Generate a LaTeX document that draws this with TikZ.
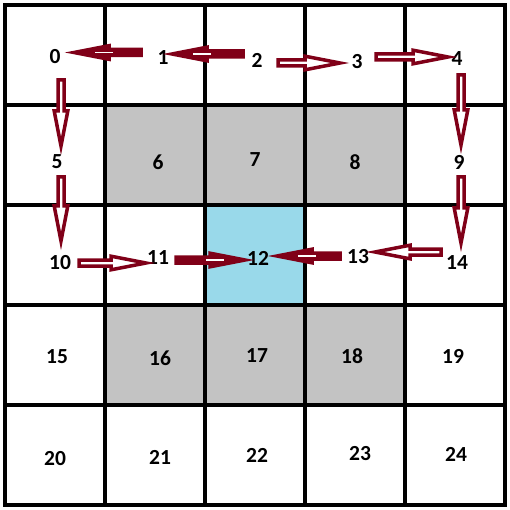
\documentclass[tikz,border=0pt]{standalone}
\usepackage{fontspec}
\setmainfont{Carlito}
\usetikzlibrary{calc}
\definecolor{arr}{HTML}{800018}
\definecolor{cellgray}{HTML}{C3C3C3}
\definecolor{cellblue}{HTML}{99D9EA}
\tikzset{
  num/.style={font=\fontsize{21.5}{21.5}\selectfont\bfseries, inner sep=0pt},
  gridline/.style={line width=4.8pt, black, line cap=rect},
  hollowarrow/.style={draw=arr, line width=3.5pt, fill=white, line join=miter},
  fullarrow/.style={draw=arr, line width=3.5pt, fill=arr, line join=miter},
  sliver/.style={white, line width=1.3pt}
}
\newcommand\blockarrow[3]{%
  \coordinate (ba-h) at ($(#3)!37pt!(#2)$);
  \coordinate (ba-t) at ($(#3)!2pt!(#2)$);
  \draw[#1] ($(#2)!3pt!90:(#3)$) -- ($(ba-h)!3pt!-90:(#2)$) -- ($(ba-h)!6.8pt!-90:(#2)$)
    -- (ba-t) -- ($(ba-h)!6.8pt!90:(#2)$) -- ($(ba-h)!3pt!90:(#2)$) -- ($(#2)!3pt!-90:(#3)$) -- cycle;}
\newcommand\headsliver[2]{%
  \coordinate (bs-h) at ($(#2)!37pt!(#1)$);
  \draw[sliver] ($(bs-h)!-4pt!(#2)$) -- ($(bs-h)!14pt!(#2)$);}
\begin{document}
\begin{tikzpicture}[x=1pt,y=1pt]
\useasboundingbox (0,0) rectangle (510,-510);
\fill[white] (0,0) rectangle (510,-510);
% cell fills
\fill[cellgray] (105,-105) rectangle (405,-205);
\fill[cellgray] (105,-305) rectangle (405,-405);
\fill[cellblue] (205,-205) rectangle (305,-305);
% grid
\foreach \v in {5,105,205,305,405,505} {
  \draw[gridline] (\v,-5) -- (\v,-505);
  \draw[gridline] (5,-\v) -- (505,-\v);
}
% numbers
\node[num] (n0) at (55,-57) {0};
\node[num] (n1) at (163,-58) {1};
\node[num] (n2) at (257,-60) {2};
\node[num] (n3) at (357,-62) {3};
\node[num] (n4) at (457,-59) {4};
\node[num] (n5) at (57,-162) {5};
\node[num] (n6) at (158,-162) {6};
\node[num] (n7) at (255,-160) {7};
\node[num] (n8) at (355,-162) {8};
\node[num] (n9) at (459,-162) {9};
\node[num] (n10) at (60,-263) {10};
\node[num] (n11) at (158,-258) {11};
\node[num] (n12) at (258,-258) {12};
\node[num] (n13) at (358,-257) {13};
\node[num] (n14) at (457,-263) {14};
\node[num] (n15) at (57,-357) {15};
\node[num] (n16) at (160,-358) {16};
\node[num] (n17) at (257,-356) {17};
\node[num] (n18) at (352,-356) {18};
\node[num] (n19) at (453,-356) {19};
\node[num] (n20) at (55,-459) {20};
\node[num] (n21) at (160,-457) {21};
\node[num] (n22) at (257,-455) {22};
\node[num] (n23) at (360,-454) {23};
\node[num] (n24) at (456,-454) {24};
% arrow end points
\coordinate (a1s) at (141,-52.5);  \coordinate (a1e) at (72,-52.5);
\coordinate (a2s) at (243,-54);    \coordinate (a2e) at (170,-54);
\coordinate (a3s) at (278,-63);    \coordinate (a3e) at (342,-63);
\coordinate (a4s) at (376,-57);    \coordinate (a4e) at (450,-57);
\coordinate (a5s) at (61,-80);     \coordinate (a5e) at (61,-148);
\coordinate (a6s) at (61,-177);    \coordinate (a6e) at (61,-243);
\coordinate (a7s) at (461,-75);    \coordinate (a7e) at (461,-147);
\coordinate (a8s) at (461,-177);   \coordinate (a8e) at (461,-245);
\coordinate (a9s) at (79,-263);    \coordinate (a9e) at (148,-263);
\coordinate (a10s) at (176,-260);  \coordinate (a10e) at (247,-260);
\coordinate (a11s) at (340,-256);  \coordinate (a11e) at (275,-256);
\coordinate (a12s) at (441,-252);  \coordinate (a12e) at (373,-252);
% arrows
\blockarrow{fullarrow}{a1s}{a1e}\headsliver{a1s}{a1e}
\blockarrow{fullarrow}{a2s}{a2e}\headsliver{a2s}{a2e}
\blockarrow{hollowarrow}{a3s}{a3e}
\blockarrow{hollowarrow}{a4s}{a4e}
\blockarrow{hollowarrow}{a5s}{a5e}
\blockarrow{hollowarrow}{a6s}{a6e}
\blockarrow{hollowarrow}{a7s}{a7e}
\blockarrow{hollowarrow}{a8s}{a8e}
\blockarrow{hollowarrow}{a9s}{a9e}
\blockarrow{fullarrow}{a10s}{a10e}\headsliver{a10s}{a10e}
\blockarrow{fullarrow}{a11s}{a11e}\headsliver{a11s}{a11e}
\blockarrow{hollowarrow}{a12s}{a12e}
\end{tikzpicture}
\end{document}
